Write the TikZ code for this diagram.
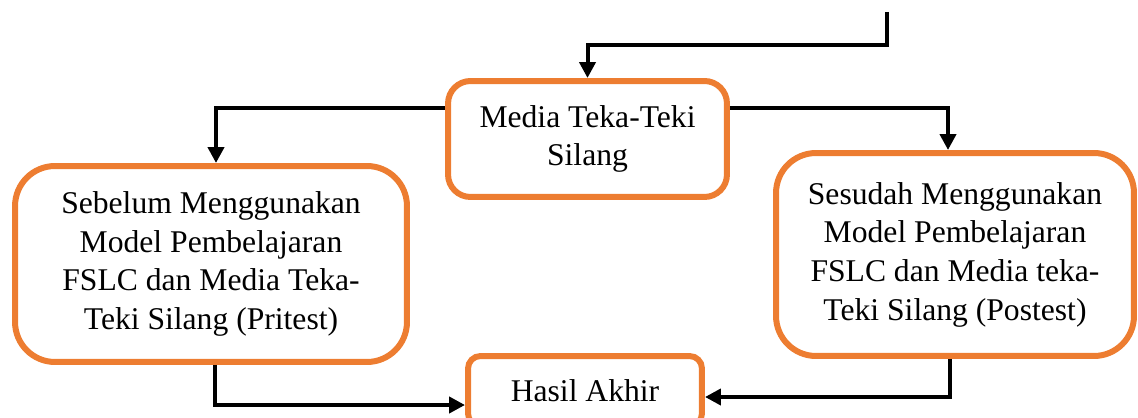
\documentclass[tikz,border=0pt]{standalone}
\usepackage{fontspec}
\setmainfont{Liberation Serif}
\usetikzlibrary{arrows.meta}
\definecolor{kotakoranye}{HTML}{ED7D31}

\begin{document}
\begin{tikzpicture}[x=0.02cm, y=-0.02cm,
		kotak/.style={draw=kotakoranye, line width=0.12cm, align=center, inner sep=0pt, font=\fontsize{18}{22}\selectfont},
		panah/.style={line width=0.08cm, -{Triangle[width=0.32cm,length=0.32cm]}}]
		%%%%% START %%%%%
		
		\clip (0, 0) rectangle (1138, 418);
		
		\node[kotak, minimum width=5.58cm, minimum height=2.32cm, rounded corners=0.45cm] (media) at (587.5, 139) {Media Teka-Teki\\Silang};
		\node[kotak, minimum width=7.84cm, minimum height=3.92cm, rounded corners=0.8cm] (sebelum) at (211, 264) {Sebelum Menggunakan\\Model Pembelajaran\\FSLC dan Media Teka-\\Teki Silang (Pritest)};
		\node[kotak, minimum width=7.16cm, minimum height=4.06cm, rounded corners=0.8cm] (sesudah) at (955, 254.5) {Sesudah Menggunakan\\Model Pembelajaran\\FSLC dan Media teka-\\Teki Silang (Postest)};
		\node[kotak, minimum width=4.68cm, minimum height=1.4cm, rounded corners=0.25cm] (hasil) at (585, 391) {Hasil Akhir};
		
		\coordinate (atas) at (887, 12);
		\draw[panah] (atas) -- ++(0, 33) -| (media.north);
		
		\draw[panah] ([shift={(0, -31)}]media.west) -| ([shift={(5, 0)}]sebelum.north);
		\draw[panah] ([shift={(0, -31)}]media.east) -| ([shift={(-7, 0)}]sesudah.north);
		
		\draw[panah] ([shift={(4, 0)}]sebelum.south) |- ([shift={(0, 14)}]hasil.west);
		\draw[panah] ([shift={(-5, 0)}]sesudah.south) |- ([shift={(0, 6)}]hasil.east);
		
		%%%%% END %%%%%
\end{tikzpicture}
\end{document}
